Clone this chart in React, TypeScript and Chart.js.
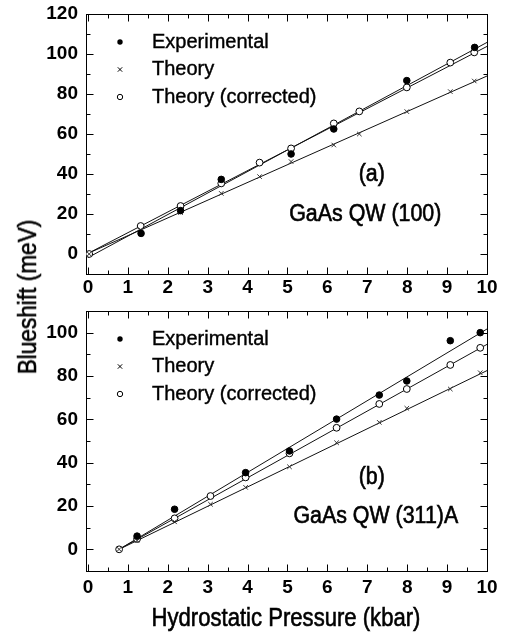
import React, { useEffect, useRef } from "react";
import { Chart, registerables } from "chart.js";

Chart.register(...registerables);

// ---------- shared labels / ticks ----------
const legendLabels = ["Experimental", "Theory", "Theory (corrected)"];
const xAxisTitle = "Hydrostatic Pressure (kbar)";
const yAxisTitle = "Blueshift (meV)";
const xTickLabels = [0, 1, 2, 3, 4, 5, 6, 7, 8, 9, 10];
const xMinorTicks = [0.5, 1.5, 2.5, 3.5, 4.5, 5.5, 6.5, 7.5, 8.5, 9.5];

// ---------- panel (a): GaAs QW (100) ----------
const aNotes = ["(a)", "GaAs QW (100)"];
const aYTicks = [0, 20, 40, 60, 80, 100, 120];
const aYMinor = [10, 30, 50, 70, 90, 110];
const aExpX = [1.33, 2.32, 3.34, 5.09, 6.16, 7.99, 9.69];
const aExpY = [10.3, 21.7, 37.3, 50.0, 62.5, 86.7, 103.3];
const aThX = [0.03, 1.32, 2.32, 3.34, 4.3, 5.09, 6.16, 6.8, 7.99, 9.08, 9.68];
const aThY = [0, 12, 20.7, 30.3, 38.7, 46.2, 54.5, 60.0, 71.2, 81.2, 86.5];
const aCorX = [0.03, 1.32, 2.32, 3.34, 4.3, 5.09, 6.16, 6.8, 7.99, 9.08, 9.68];
const aCorY = [0, 14, 24, 35.3, 45.7, 52.8, 65.3, 71.3, 83.3, 95.7, 100.8];
const aFitX = [0, 10];
const aFitExpY = [-1.8, 105.8];
const aFitThY = [0.3, 89];
const aFitCorY = [0.3, 103.8];

// ---------- panel (b): GaAs QW (311)A ----------
const bNotes = ["(b)", "GaAs QW (311)A"];
const bYTicks = [0, 20, 40, 60, 80, 100];
const bYMinor = [10, 30, 50, 70, 90, 110];
const bExpX = [1.23, 2.17, 3.95, 5.05, 6.23, 7.3, 7.99, 9.08, 9.83];
const bExpY = [6.1, 18.5, 35.4, 45.4, 60.1, 71.2, 77.7, 96.3, 100];
const bThX = [0.78, 1.23, 2.17, 3.07, 3.95, 5.05, 6.23, 7.3, 7.99, 9.08, 9.83];
const bThY = [0, 4, 12.7, 20.8, 28.6, 38.1, 49.2, 58.6, 65.1, 74, 81.5];
const bCorX = [0.78, 1.23, 2.17, 3.07, 3.95, 5.05, 6.23, 7.3, 7.99, 9.08, 9.83];
const bCorY = [0, 4.8, 14.3, 24.6, 33.2, 44.3, 56.1, 67.1, 74, 85.1, 93];
const bFitX = [0.78, 10];
const bFitExpY = [0, 101.7];
const bFitThY = [0, 82.5];
const bFitCorY = [0, 94.6];

const FONT = "'Liberation Sans', Arial, Helvetica, sans-serif";

const pts = (xs: number[], ys: number[]) => xs.map((x, i) => ({ x, y: ys[i] }));

const decorPlugin = {
  id: "panelDecor",
  beforeDatasetsDraw(chart: any, _a: any, o: any) {
    const { ctx, chartArea: ca, scales } = chart;
    const xs = scales.x;
    const ys = scales.y;
    const L = Math.round(ca.left) + 0.5;
    const R = Math.round(ca.right) + 0.5;
    const T = Math.round(ca.top) + 0.5;
    const B = Math.round(ca.bottom) + 0.5;
    ctx.save();
    ctx.strokeStyle = "#000";
    ctx.lineWidth = 1;
    ctx.strokeRect(L, T, R - L, B - T);
    ctx.beginPath();
    const tx = (vals: number[], len: number) =>
      vals.forEach((v) => {
        const p = Math.round(xs.getPixelForValue(v)) + 0.5;
        ctx.moveTo(p, B);
        ctx.lineTo(p, B - len);
        ctx.moveTo(p, T);
        ctx.lineTo(p, T + len);
      });
    const ty = (vals: number[], len: number) =>
      vals.forEach((v) => {
        const p = Math.round(ys.getPixelForValue(v)) + 0.5;
        ctx.moveTo(L, p);
        ctx.lineTo(L + len, p);
        ctx.moveTo(R, p);
        ctx.lineTo(R - len, p);
      });
    tx(o.xMajor, 7);
    tx(o.xMinor, 4);
    ty(o.yMajor, 7);
    ty(o.yMinor, 4);
    ctx.stroke();
    ctx.restore();
  },
  afterDraw(chart: any, _a: any, o: any) {
    const { ctx, chartArea: ca } = chart;
    ctx.save();
    ctx.fillStyle = "#000";
    ctx.strokeStyle = "#000";
    ctx.lineWidth = 1;
    const mx = ca.left + 34;
    const tx = ca.left + 66;
    o.legendDy.forEach((dy: number, i: number) => {
      const y = ca.top + dy;
      ctx.lineWidth = 1;
      ctx.beginPath();
      if (i === 0) {
        ctx.arc(mx, y, 2.7, 0, Math.PI * 2);
        ctx.fill();
      } else if (i === 1) {
        ctx.moveTo(mx - 2.2, y - 2.2);
        ctx.lineTo(mx + 2.2, y + 2.2);
        ctx.moveTo(mx - 2.2, y + 2.2);
        ctx.lineTo(mx + 2.2, y - 2.2);
        ctx.stroke();
      } else {
        ctx.arc(mx, y, 2.7, 0, Math.PI * 2);
        ctx.stroke();
      }
      ctx.font = `20px ${FONT}`;
      ctx.textAlign = "left";
      ctx.textBaseline = "middle";
      ctx.lineWidth = 0.4;
      ctx.fillText(legendLabels[i], tx, y);
      ctx.strokeText(legendLabels[i], tx, y);
    });
    o.notes.forEach((n: { text: string; dx: number; dy: number }) => {
      ctx.save();
      ctx.translate(ca.left + n.dx, ca.top + n.dy);
      ctx.scale(0.93, 1);
      ctx.font = `23px ${FONT}`;
      ctx.textAlign = "center";
      ctx.textBaseline = "middle";
      ctx.lineWidth = 0.6;
      ctx.fillText(n.text, 0, 0);
      ctx.strokeText(n.text, 0, 0);
      ctx.restore();
    });
    ctx.restore();
  },
};

type Panel = {
  exp: { x: number; y: number }[];
  th: { x: number; y: number }[];
  cor: { x: number; y: number }[];
  fitExp: { x: number; y: number }[];
  fitTh: { x: number; y: number }[];
  fitCor: { x: number; y: number }[];
  yMin: number;
  yMax: number;
  yTicks: number[];
  yMinor: number[];
  padTop: number;
  xAxisH: number;
  xPad: number;
  notes: { text: string; dx: number; dy: number }[];
};

function makePanel(canvas: HTMLCanvasElement, p: Panel) {
  const tickFont = { family: FONT, size: 19, weight: "bold" as const };
  const fitStyle = {
    showLine: true,
    pointRadius: 0,
    borderWidth: 1,
    borderColor: "#111",
    backgroundColor: "#111",
    order: 5,
  };
  return new Chart(canvas, {
    type: "scatter",
    data: {
      datasets: [
        { label: "fitExp", data: p.fitExp, ...fitStyle },
        { label: "fitTh", data: p.fitTh, ...fitStyle },
        { label: "fitCor", data: p.fitCor, ...fitStyle },
        {
          label: legendLabels[2],
          data: p.cor,
          pointStyle: "circle",
          pointRadius: 3.4,
          backgroundColor: "#fff",
          borderColor: "#000",
          borderWidth: 1,
          order: 3,
        },
        {
          label: legendLabels[1],
          data: p.th,
          pointStyle: "crossRot",
          pointRadius: 3.2,
          borderColor: "#333",
          borderWidth: 1,
          order: 2,
        },
        {
          label: legendLabels[0],
          data: p.exp,
          pointStyle: "circle",
          pointRadius: 3.3,
          backgroundColor: "#000",
          borderColor: "#000",
          borderWidth: 1,
          order: 1,
        },
      ],
    },
    options: {
      responsive: false,
      animation: false,
      devicePixelRatio: 1,
      events: [],
      layout: { padding: { left: 0, right: 21, top: p.padTop, bottom: 0 } },
      plugins: {
        legend: { display: false },
        tooltip: { enabled: false },
        panelDecor: {
          xMajor: xTickLabels,
          xMinor: xMinorTicks,
          yMajor: p.yTicks,
          yMinor: p.yMinor,
          legendDy: [28, 55.5, 83],
          notes: p.notes,
        },
      } as any,
      scales: {
        x: {
          type: "linear",
          min: -0.05,
          max: 10,
          afterBuildTicks: (axis: any) => {
            axis.ticks = xTickLabels.map((v) => ({ value: v }));
          },
          afterFit: (s: any) => {
            s.height = p.xAxisH;
            s.paddingLeft = 0;
            s.paddingRight = 0;
          },
          grid: { display: false, drawTicks: false },
          border: { display: false },
          ticks: {
            font: tickFont,
            color: "#000",
            padding: p.xPad,
            maxRotation: 0,
            autoSkip: false,
          },
        },
        y: {
          type: "linear",
          min: p.yMin,
          max: p.yMax,
          afterBuildTicks: (axis: any) => {
            axis.ticks = p.yTicks.map((v) => ({ value: v }));
          },
          afterFit: (s: any) => {
            s.width = 86;
            s.paddingTop = 0;
            s.paddingBottom = 0;
          },
          grid: { display: false, drawTicks: false },
          border: { display: false },
          ticks: { font: tickFont, color: "#000", padding: 8, autoSkip: false },
        },
      },
    },
    plugins: [decorPlugin],
  } as any);
}

const panelA: Panel = {
  exp: pts(aExpX, aExpY),
  th: pts(aThX, aThY),
  cor: pts(aCorX, aCorY),
  fitExp: pts(aFitX, aFitExpY),
  fitTh: pts(aFitX, aFitThY),
  fitCor: pts(aFitX, aFitCorY),
  yMin: -10,
  yMax: 120,
  yTicks: aYTicks,
  yMinor: aYMinor,
  padTop: 14,
  xAxisH: 26,
  xPad: 2,
  notes: [
    { text: aNotes[0], dx: 285.7, dy: 161 },
    { text: aNotes[1], dx: 279.3, dy: 201 },
  ],
};

const panelB: Panel = {
  exp: pts(bExpX, bExpY),
  th: pts(bThX, bThY),
  cor: pts(bCorX, bCorY),
  fitExp: pts(bFitX, bFitExpY),
  fitTh: pts(bFitX, bFitThY),
  fitCor: pts(bFitX, bFitCorY),
  yMin: -10,
  yMax: 110,
  yTicks: bYTicks,
  yMinor: bYMinor,
  padTop: 21,
  xAxisH: 64,
  xPad: 5,
  notes: [
    { text: bNotes[0], dx: 285.7, dy: 167 },
    { text: bNotes[1], dx: 289.8, dy: 206 },
  ],
};

const titleBase: React.CSSProperties = {
  position: "absolute",
  height: 26,
  lineHeight: "26px",
  fontSize: 26,
  fontFamily: FONT,
  textAlign: "center",
  whiteSpace: "nowrap",
  color: "#000",
  WebkitTextStroke: "0.6px #000",
  transformOrigin: "50% 50%",
};

export default function App() {
  const topRef = useRef<HTMLCanvasElement>(null);
  const botRef = useRef<HTMLCanvasElement>(null);
  useEffect(() => {
    const a = makePanel(topRef.current!, panelA);
    const b = makePanel(botRef.current!, panelB);
    return () => {
      a.destroy();
      b.destroy();
    };
  }, []);
  return (
    <div
      style={{
        position: "absolute",
        left: 0,
        top: 0,
        width: 508,
        height: 635,
        background: "#fff",
        overflow: "hidden",
      }}
    >
      <canvas
        ref={topRef}
        width={508}
        height={300}
        style={{ position: "absolute", left: 0, top: 0, width: 508, height: 300 }}
      />
      <canvas
        ref={botRef}
        width={508}
        height={345}
        style={{ position: "absolute", left: 0, top: 290, width: 508, height: 345 }}
      />
      <div
        style={{
          ...titleBase,
          left: 27 - 150,
          top: 297 - 13,
          width: 300,
          transform: "rotate(-90deg) scale(0.87, 1)",
        }}
      >
        {yAxisTitle}
      </div>
      <div
        style={{
          ...titleBase,
          left: 285.5 - 200,
          top: 604,
          width: 400,
          transform: "scale(0.85, 1)",
        }}
      >
        {xAxisTitle}
      </div>
    </div>
  );
}
